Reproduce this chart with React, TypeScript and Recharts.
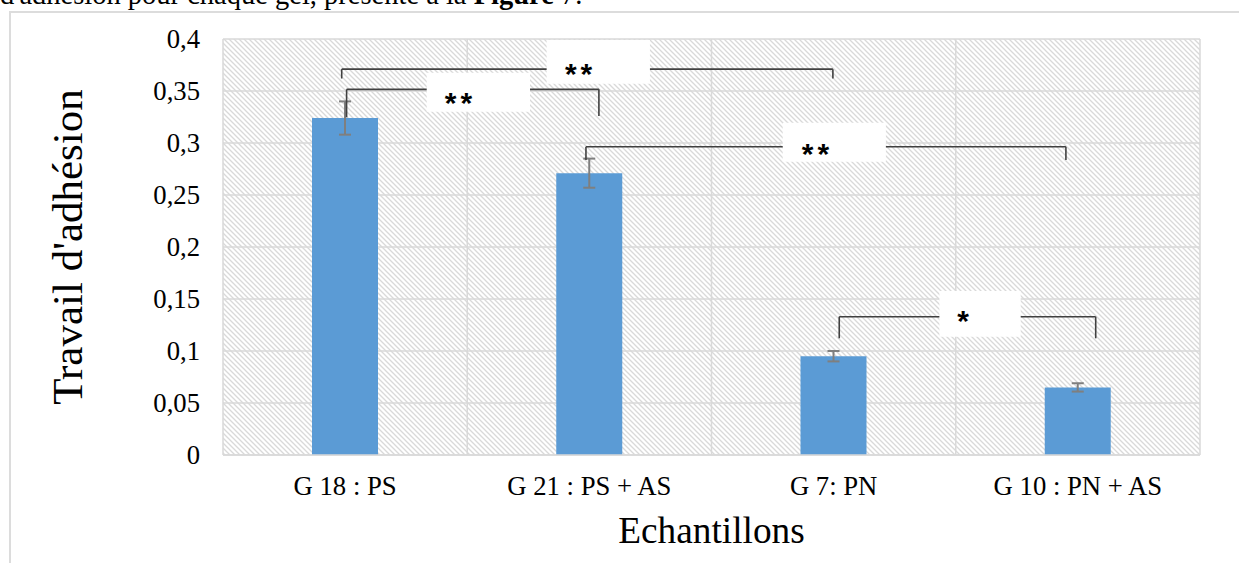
import { BarChart, Bar, XAxis, YAxis, CartesianGrid, ErrorBar, ReferenceLine, ReferenceArea, ReferenceDot, Label } from 'recharts';

const categories = ['G 18 : PS', 'G 21 : PS + AS', 'G 7: PN', 'G 10 : PN + AS'];
const travail = [0.324, 0.271, 0.095, 0.065];
const ecart = [0.016, 0.014, 0.005, 0.004];
const yTicks = [0, 0.05, 0.1, 0.15, 0.2, 0.25, 0.3, 0.35, 0.4];

// accolades de significativité (x en unités de catégorie 0..4, y en valeur)
const bracketFrom = [0.486, 0.506, 1.486, 2.523];
const bracketTo = [2.497, 1.539, 3.451, 3.573];
const bracketTop = [0.371, 0.3516, 0.2964, 0.133];
const legLeft = [0.362, 0.3247, 0.2837, 0.1122];
const legRight = [0.362, 0.326, 0.2837, 0.1122];
const stars = ['**', '**', '**', '*'];
const boxFrom = [1.325, 0.834, 2.2915, 2.933];
const boxTo = [1.748, 1.257, 2.714, 3.266];
const boxBottom = [0.357, 0.33, 0.282, 0.1138];
const boxTop = [0.399, 0.3676, 0.3195, 0.1577];
const starX = [1.464, 0.972, 2.434, 3.038];
const starY = [0.3666, 0.3394, 0.29, 0.1293];

// pos = centre de chaque catégorie sur l'axe numérique caché
const data = categories.map((name, i) => ({ name, pos: i + 0.5, value: travail[i], err: ecart[i] }));

const serif = "'Liberation Serif', 'Times New Roman', serif";
const lineColor = '#404040';

export default function App() {
  return (
    <div style={{ position: 'absolute', left: 0, top: 0, width: 1239, height: 563, background: '#fff', overflow: 'hidden' }}>
      <svg width={1239} height={20} style={{ position: 'absolute', left: 0, top: 0 }}>
        <text x={0} y={4} fontFamily={serif} fontSize={28.5} fill="#000">
          d'adhésion pour chaque gel, présenté à la <tspan fontWeight="bold">Figure</tspan> 7.
        </text>
      </svg>
      <div
        style={{
          position: 'absolute',
          left: 9,
          top: 11,
          width: 1240,
          height: 560,
          borderTop: '2px solid #dcdcdc',
          borderLeft: '2px solid #dcdcdc',
        }}
      />
      <div style={{ position: 'absolute', left: 0, top: 0 }}>
        <BarChart width={1239} height={563} data={data} margin={{ top: 39, right: 39, bottom: 0, left: 0 }}>
          <defs>
            <pattern id="hatch" width={5} height={5} patternUnits="userSpaceOnUse">
              <rect width={5} height={5} fill="#fff" />
              <path d="M0,0 L5,5 M-1,4 L1,6 M4,-1 L6,1" stroke="#d9d9d9" strokeWidth={1.3} />
            </pattern>
          </defs>
          <CartesianGrid xAxisId="n" stroke="#d9d9d9" strokeWidth={1.5} fill="url(#hatch)" fillOpacity={1} />
          <XAxis
            dataKey="name"
            height={108}
            tickLine={false}
            tickSize={0}
            tickMargin={21}
            axisLine={{ stroke: '#d9d9d9', strokeWidth: 1.5 }}
            tick={{ fill: '#000', fontSize: 26.7, fontFamily: serif }}
          >
            <Label value="Echantillons" position="insideBottom" offset={20} style={{ fill: '#000', fontSize: 37.3, fontFamily: serif }} />
          </XAxis>
          <XAxis
            xAxisId="n"
            dataKey="pos"
            type="number"
            domain={[0, 4]}
            allowDataOverflow
            ticks={[0, 1, 2, 3, 4]}
            hide
          />
          <YAxis
            width={223}
            domain={[0, 0.4]}
            ticks={yTicks}
            interval={0}
            tickLine={false}
            tickSize={0}
            tickMargin={23}
            axisLine={false}
            tickFormatter={(v: number) => String(v).replace('.', ',')}
            tick={{ fill: '#000', fontSize: 26.7, fontFamily: serif }}
          >
            <Label
              value="Travail d'adhésion"
              angle={-90}
              position="insideLeft"
              offset={67}
              style={{ textAnchor: 'middle', fill: '#000', fontSize: 43, fontFamily: serif }}
            />
          </YAxis>
          <Bar dataKey="value" fill="#5B9BD5" barSize={66} isAnimationActive={false}>
            <ErrorBar dataKey="err" direction="y" width={6} stroke="#7f7f7f" strokeWidth={2} isAnimationActive={false} />
          </Bar>
          {stars.map((s, i) => (
            <ReferenceLine
              key={`ll-${i}`}
              xAxisId="n"
              segment={[{ x: bracketFrom[i], y: legLeft[i] }, { x: bracketFrom[i], y: bracketTop[i] }]}
              stroke={lineColor}
              strokeWidth={1.6}
            />
          ))}
          {stars.map((s, i) => (
            <ReferenceLine
              key={`lr-${i}`}
              xAxisId="n"
              segment={[{ x: bracketTo[i], y: legRight[i] }, { x: bracketTo[i], y: bracketTop[i] }]}
              stroke={lineColor}
              strokeWidth={1.6}
            />
          ))}
          {stars.map((s, i) => (
            <ReferenceLine
              key={`ha-${i}`}
              xAxisId="n"
              segment={[{ x: bracketFrom[i], y: bracketTop[i] }, { x: boxFrom[i], y: bracketTop[i] }]}
              stroke={lineColor}
              strokeWidth={1.6}
            />
          ))}
          {stars.map((s, i) => (
            <ReferenceLine
              key={`hb-${i}`}
              xAxisId="n"
              segment={[{ x: boxTo[i], y: bracketTop[i] }, { x: bracketTo[i], y: bracketTop[i] }]}
              stroke={lineColor}
              strokeWidth={1.6}
            />
          ))}
          {stars.map((s, i) => (
            <ReferenceArea
              key={`box-${i}`}
              xAxisId="n"
              x1={boxFrom[i]}
              x2={boxTo[i]}
              y1={boxBottom[i]}
              y2={boxTop[i]}
              fill="#fff"
              fillOpacity={1}
              stroke="none"
            />
          ))}
          {stars.map((s, i) => (
            <ReferenceDot
              key={`star-${i}`}
              xAxisId="n"
              x={starX[i]}
              y={starY[i]}
              r={0}
              fill="none"
              stroke="none"
              label={{
                value: s,
                position: 'center',
                style: { fill: '#000', fontSize: 30, fontWeight: 'bold', fontFamily: "'Liberation Sans', Arial, sans-serif", letterSpacing: 4 },
              }}
            />
          ))}
        </BarChart>
      </div>
    </div>
  );
}
